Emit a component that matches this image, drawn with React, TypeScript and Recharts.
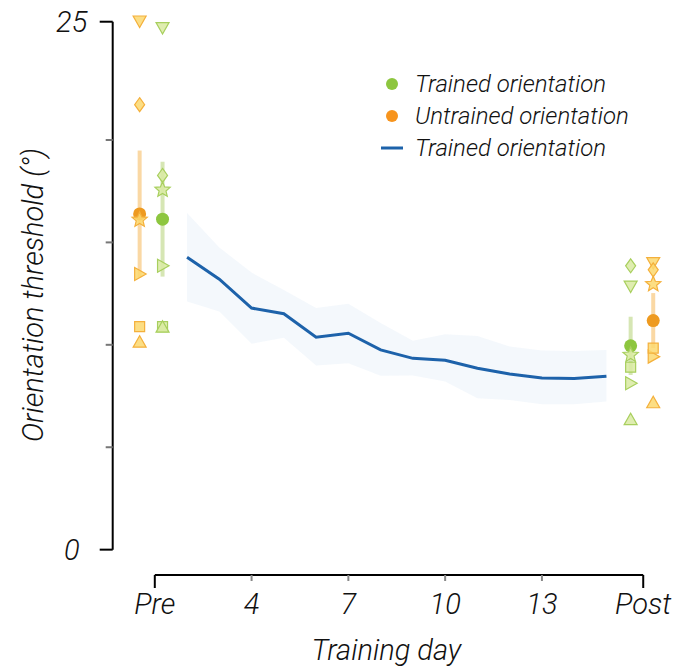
import { Area, ComposedChart, ErrorBar, Legend, Line, ReferenceLine, Scatter, XAxis, YAxis } from "recharts";

// training curve (days 2-15)
const trainingDays = [2, 3, 4, 5, 6, 7, 8, 9, 10, 11, 12, 13, 14, 15];
const thresholdMean = [13.85, 12.81, 11.44, 11.17, 10.06, 10.25, 9.46, 9.06, 8.97, 8.59, 8.32, 8.13, 8.1, 8.21];
const thresholdLow = [11.75, 11.28, 9.75, 10.04, 8.72, 8.83, 8.24, 8.25, 7.96, 7.17, 7.09, 6.89, 6.89, 7.01];
const thresholdHigh = [15.94, 14.31, 13.12, 12.3, 11.44, 11.64, 10.73, 9.89, 10.2, 10.12, 9.62, 9.43, 9.41, 9.46];

// individual subjects, same order in every test
const subjectMarkers = ["triDown", "diamond", "star", "triRight", "square", "triUp"];
const preTrained = [24.7, 17.72, 17.04, 13.44, 10.56, 10.56];
const preUntrained = [25.01, 21.07, 15.62, 13.05, 10.56, 9.85];
const postTrained = [12.46, 13.44, 9.22, 7.88, 8.64, 6.18];
const postUntrained = [13.57, 13.25, 12.57, 9.14, 9.54, 6.98];

// group means +- error
const trainedMeans = [15.65, 9.65];
const trainedErrors = [2.72, 1.38];
const untrainedMeans = [15.9, 10.85];
const untrainedErrors = [3.0, 1.3];

// x placement of the pre / post columns
const preUntrainedX = 0.53;
const preTrainedX = 1.24;
const postTrainedX = 15.75;
const postUntrainedX = 16.45;

const PRE_DAY = 1;
const POST_DAY = 16.14;
const xTicks = [PRE_DAY, 4, 7, 10, 13, POST_DAY];
const xTickLabels = ["Pre", "4", "7", "10", "13", "Post"];
const yTicks = [0, 4.85, 9.7, 14.55, 19.4, 25];

const X_MIN = -0.305;
const X_MAX = 16.97;
const Y_MIN = -1.2;
const Y_TOP = 25;
const Y_MAX = 26;

const FONT = "Roboto, 'Liberation Sans', Arial, sans-serif";
const GREEN = "#8dc63f";
const ORANGE = "#ee9a20";
const BLUE = "#1d62aa";

const curve = trainingDays.map((d, i) => ({ x: d, y: thresholdMean[i], band: [thresholdLow[i], thresholdHigh[i]] }));

const subjects = (x: number, values: number[]) =>
  values.map((v, i) => ({ x, y: v, marker: subjectMarkers[i] }));

const trainedSubjects = [...subjects(preTrainedX, preTrained), ...subjects(postTrainedX, postTrained)];
const untrainedSubjects = [...subjects(preUntrainedX, preUntrained), ...subjects(postUntrainedX, postUntrained)];
const trainedMeanData = [
  { x: preTrainedX, y: trainedMeans[0], err: trainedErrors[0] },
  { x: postTrainedX, y: trainedMeans[1], err: trainedErrors[1] },
];
const untrainedMeanData = [
  { x: preUntrainedX, y: untrainedMeans[0], err: untrainedErrors[0] },
  { x: postUntrainedX, y: untrainedMeans[1], err: untrainedErrors[1] },
];

const legendItems = [
  { label: "Trained orientation", color: GREEN, kind: "dot" },
  { label: "Untrained orientation", color: "#f7941d", kind: "dot" },
  { label: "Trained orientation", color: BLUE, kind: "line" },
];

function markerPath(m: string, cx: number, cy: number) {
  switch (m) {
    case "triDown":
      return `M${cx - 6.5},${cy - 5.5}L${cx + 6.5},${cy - 5.5}L${cx},${cy + 6}Z`;
    case "triUp":
      return `M${cx - 6.5},${cy + 5.5}L${cx + 6.5},${cy + 5.5}L${cx},${cy - 6}Z`;
    case "triRight":
      return `M${cx - 5},${cy - 6.5}L${cx - 5},${cy + 6.5}L${cx + 6.5},${cy}Z`;
    case "diamond":
      return `M${cx},${cy - 7}L${cx + 5},${cy}L${cx},${cy + 7}L${cx - 5},${cy}Z`;
    case "square":
      return `M${cx - 5},${cy - 5}L${cx + 5},${cy - 5}L${cx + 5},${cy + 5}L${cx - 5},${cy + 5}Z`;
    default: {
      let d = "";
      for (let k = 0; k < 10; k++) {
        const r = k % 2 === 0 ? 8 : 3.6;
        const a = -Math.PI / 2 + (k * Math.PI) / 5;
        d += `${k === 0 ? "M" : "L"}${cx + r * Math.cos(a)},${cy + r * Math.sin(a)}`;
      }
      return d + "Z";
    }
  }
}

const makeSubjectShape = (fill: string, stroke: string) => (props: any) => (
  <path d={markerPath(props.payload.marker, props.cx, props.cy)} fill={fill} stroke={stroke} strokeWidth={1.2} fillOpacity={0.85} />
);

const makeMeanShape = (fill: string) => (props: any) => <circle cx={props.cx} cy={props.cy} r={6.5} fill={fill} />;

const textStyle = { fontFamily: FONT, fontStyle: "italic", fontWeight: 300, fontSize: 29, fill: "#111" } as const;

function YTick({ x, y, payload }: any) {
  const major = payload.value === 0 || payload.value === Y_TOP;
  return (
    <g>
      <line x1={x - (major ? 13 : 7)} x2={x} y1={y} y2={y} stroke={major ? "#000" : "#777"} strokeWidth={2} />
      {major && (
        <text x={x - 41} y={y} dy={10} textAnchor="middle" {...textStyle}>
          {payload.value}
        </text>
      )}
    </g>
  );
}

function XTick({ x, y, payload, index }: any) {
  const major = payload.value === PRE_DAY || payload.value === POST_DAY;
  return (
    <g>
      <line x1={x} x2={x} y1={y} y2={y + (major ? 13 : 6)} stroke={major ? "#000" : "#888"} strokeWidth={2} />
      <text x={x} y={y} dy={39} textAnchor="middle" {...textStyle}>
        {xTickLabels[index]}
      </text>
    </g>
  );
}

function LegendBox() {
  return (
    <div style={{ fontFamily: FONT, fontStyle: "italic", fontWeight: 300, fontSize: 24, color: "#111" }}>
      {legendItems.map((item, i) => (
        <div key={i} style={{ display: "flex", alignItems: "center", height: 32 }}>
          <svg width={32} height={20} style={{ marginRight: 7 }}>
            {item.kind === "dot" ? (
              <circle cx={16} cy={10} r={6} fill={item.color} />
            ) : (
              <line x1={5} x2={27} y1={10} y2={10} stroke={item.color} strokeWidth={3} />
            )}
          </svg>
          <span>{item.label}</span>
        </div>
      ))}
    </div>
  );
}

export default function App() {
  return (
    <div style={{ position: "absolute", left: 0, top: 0, width: 679, height: 668, background: "#fff" }}>
      <ComposedChart width={679} height={668} margin={{ top: 0.6, right: 9, bottom: 8, left: 12.7 }}>
        <XAxis
          type="number"
          dataKey="x"
          domain={[X_MIN, X_MAX]}
          allowDataOverflow
          ticks={xTicks}
          axisLine={false}
          tickLine={false}
          tickSize={0}
          tickMargin={0}
          height={85}
          tick={<XTick />}
          interval={0}
          label={{
            content: ({ viewBox }: any) => (
              <text x={viewBox.x + viewBox.width / 2 - 5} y={viewBox.y + 85} textAnchor="middle" {...textStyle}>
                Training day
              </text>
            ),
          }}
        />
        <YAxis
          type="number"
          domain={[Y_MIN, Y_MAX]}
          allowDataOverflow
          ticks={yTicks}
          axisLine={false}
          tickLine={false}
          tickSize={0}
          tickMargin={0}
          width={100}
          tick={<YTick />}
          interval={0}
          label={{
            content: ({ viewBox }: any) => {
              const cx = viewBox.x + 20;
              const cy = 295;
              return (
                <text x={cx} y={cy} transform={`rotate(-90, ${cx}, ${cy})`} textAnchor="middle" dominantBaseline="central" {...textStyle}>
                  Orientation threshold (°)
                </text>
              );
            },
          }}
        />
        <ReferenceLine segment={[{ x: X_MIN, y: 0 }, { x: X_MIN, y: Y_TOP }]} stroke="#000" strokeWidth={2} ifOverflow="visible" />
        <ReferenceLine segment={[{ x: PRE_DAY, y: Y_MIN }, { x: POST_DAY, y: Y_MIN }]} stroke="#000" strokeWidth={2} ifOverflow="visible" />
        <Legend layout="vertical" verticalAlign="middle" align="center" wrapperStyle={{ left: 376, top: 68, width: 290, height: 100 }} content={<LegendBox />} />
        <Area data={curve} dataKey="band" type="linear" stroke="none" fill="#2f74c0" fillOpacity={0.05} isAnimationActive={false} legendType="none" />
        <Line data={curve} dataKey="y" type="linear" stroke={BLUE} strokeWidth={3} dot={false} isAnimationActive={false} />
        <Scatter data={trainedMeanData} dataKey="y" shape={makeMeanShape(GREEN)} isAnimationActive={false}>
          <ErrorBar dataKey="err" direction="y" width={0} stroke="#d6e6b4" strokeWidth={4} />
        </Scatter>
        <Scatter data={untrainedMeanData} dataKey="y" shape={makeMeanShape(ORANGE)} isAnimationActive={false}>
          <ErrorBar dataKey="err" direction="y" width={0} stroke="#fad8a4" strokeWidth={4} />
        </Scatter>
        <Scatter data={trainedSubjects} dataKey="y" shape={makeSubjectShape("#d9eaa2", "#a8cf5e")} isAnimationActive={false} />
        <Scatter data={untrainedSubjects} dataKey="y" shape={makeSubjectShape("#fcd86f", "#f4b03c")} isAnimationActive={false} />
      </ComposedChart>
    </div>
  );
}
